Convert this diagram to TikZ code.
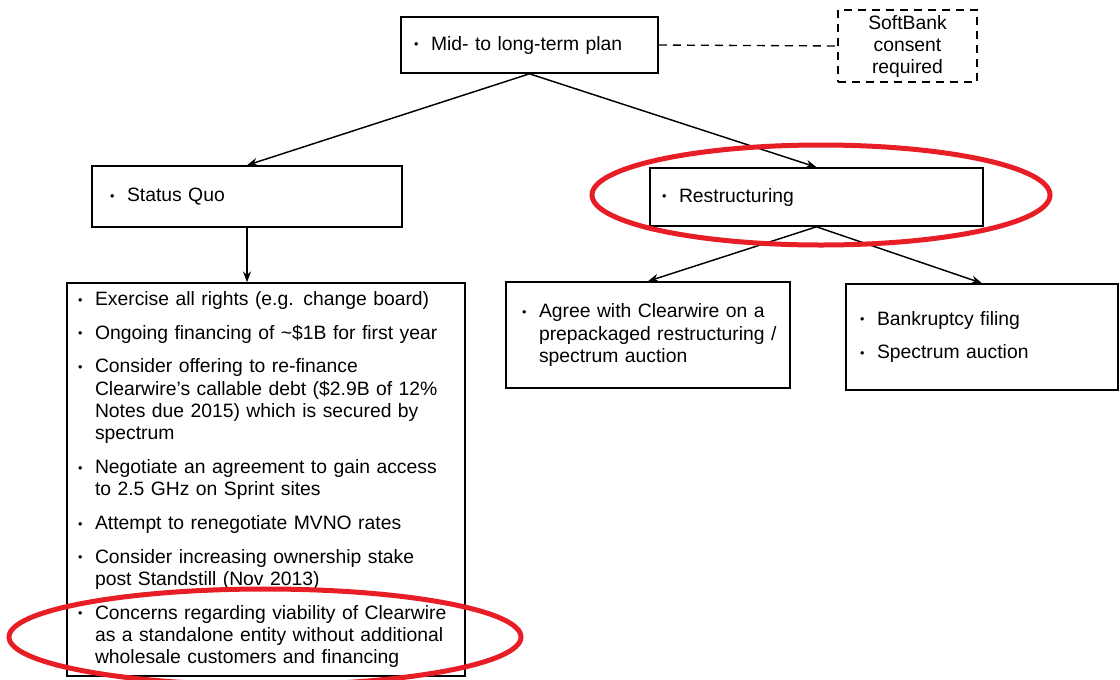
\documentclass[tikz,border=0pt]{standalone}
\usepackage{fontspec}
\setmainfont{Liberation Sans}
\usetikzlibrary{arrows.meta}

\definecolor{ringred}{RGB}{232,30,38}
\newcommand{\dotb}{\raisebox{0.12ex}{\scalebox{0.65}{\textbullet}}}
\newcommand{\bitem}[1]{\noindent\hangindent=12.75pt\hangafter=1\makebox[12.75pt][l]{\dotb}#1\par}
\newcommand{\bgap}{\vskip 8.6pt}
\newcommand{\pad}[1]{\leftskip=#1\rightskip=-14pt plus 1fil}

\tikzset{every picture/.style={line width=0.75pt}}
\tikzset{
  optbox/.style={draw, line width=1.2pt, inner xsep=0pt, inner ysep=0pt, align=left,
    font=\fontsize{14.5}{16.7}\selectfont},
  notebox/.style={draw, line width=1.1pt, dash pattern={on 6pt off 4.5pt}, inner sep=0pt,
    align=center, font=\fontsize{14.5}{16.5}\selectfont},
  link/.style={line width=1.1pt, -{Stealth[length=8pt,width=6pt]}},
  redring/.style={draw=ringred, line width=3.75pt}
}

\begin{document}
\begin{tikzpicture}[x=0.75pt,y=0.75pt,yscale=-1,xscale=1]
	\useasboundingbox (0,0) rectangle (1120,679);
	
	% Text Node
	\node [optbox, minimum width=192.75pt, minimum height=42pt, text width=192.75pt] (plan) at (529.5,45) {\pad{9.75pt}\bitem{Mid- to long-term plan}};
	% Text Node
	\node [notebox, minimum width=104.25pt, minimum height=54pt] (consent) at (907.5,46) {SoftBank\\consent\\required};
	% Text Node
	\node [optbox, minimum width=232.5pt, minimum height=45.75pt, text width=232.5pt] (quo) at (247,196.5) {\pad{13.5pt}\bitem{Status Quo}};
	% Text Node
	\node [optbox, minimum width=249.75pt, minimum height=43.5pt, text width=249.75pt] (restr) at (816.5,197) {\pad{9pt}\bitem{Restructuring}};
	% Text Node
	\node [optbox, minimum width=298.5pt, minimum height=294.75pt, text width=298.5pt] (quolist) at (266,479.5) {\pad{8.25pt}%
		\bitem{Exercise all rights (e.g. change board)}\bgap
		\bitem{Ongoing financing of \textasciitilde\$1B for first year}\bgap
		\bitem{Consider offering to re-finance\newline Clearwire’s callable debt (\$2.9B of 12\%\newline Notes due 2015) which is secured by\newline spectrum}\bgap
		\bitem{Negotiate an agreement to gain access\newline to 2.5 GHz on Sprint sites}\bgap
		\bitem{Attempt to renegotiate MVNO rates}\bgap
		\bitem{Consider increasing ownership stake\newline post Standstill (Nov 2013)}\bgap
		\bitem{Concerns regarding viability of Clearwire\newline as a standalone entity without additional\newline wholesale customers and financing}};
	% Text Node
	\node [optbox, minimum width=213pt, minimum height=79.5pt, text width=213pt] (agree) at (648,335) {\pad{12pt}%
		\bitem{Agree with Clearwire on a\newline prepackaged restructuring /\newline spectrum auction}};
	% Text Node
	\node [optbox, minimum width=204pt, minimum height=79.5pt, text width=204pt] (bankr) at (982,337) {\pad{10.5pt}%
		\bitem{Bankruptcy filing}\bgap
		\bitem{Spectrum auction}};
	
	%Straight Lines
	\draw [line width=1pt, dash pattern={on 6pt off 4.5pt}] (plan.east) -- (consent.west);
	\draw [link] (plan.south) -- (quo.north);
	\draw [link] (plan.south) -- (restr.north);
	\draw [link] (quo.south) -- (quo.south |- quolist.north);
	\draw [link] (restr.south) -- (agree.north);
	\draw [link] (restr.south) -- (bankr.north);
	
	%Shape: Ellipse
	\draw [redring] (821,195) ellipse [x radius=229, y radius=50];
	%Shape: Ellipse
	\draw [redring] (265,637) ellipse [x radius=256, y radius=48];
	
\end{tikzpicture}
\end{document}
